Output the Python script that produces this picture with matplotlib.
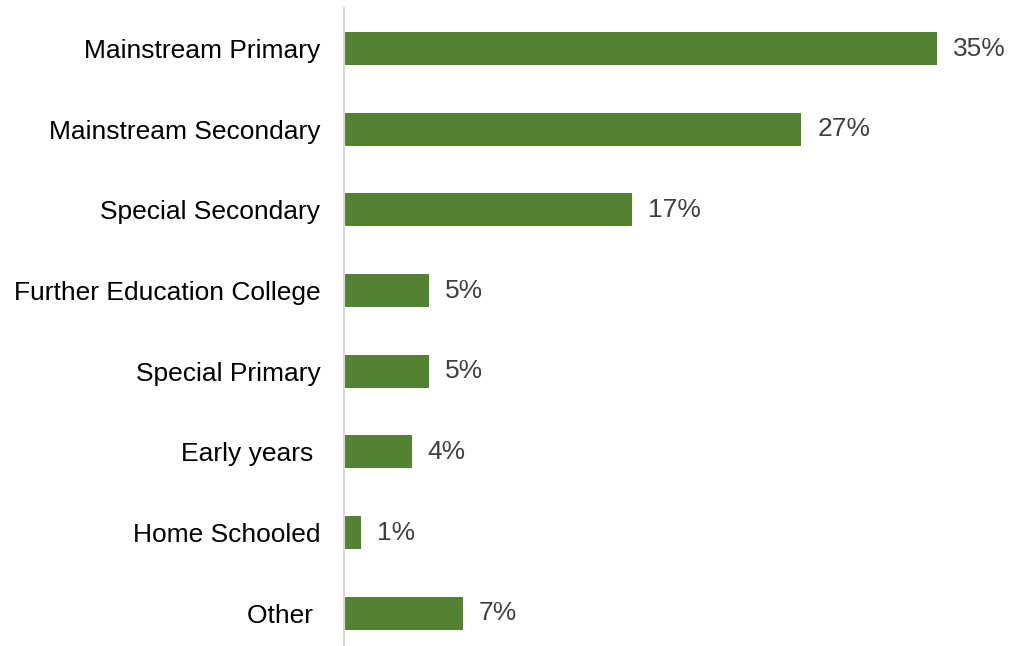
import matplotlib.pyplot as plt

plt.rcParams['font.family'] = ['Liberation Sans', 'DejaVu Sans']

# dữ liệu
categories = ["Mainstream Primary", "Mainstream Secondary", "Special Secondary",
              "Further Education College", "Special Primary", "Early years ",
              "Home Schooled", "Other "]
values = [35, 27, 17, 5, 5, 4, 1, 7]
value_labels = ["35%", "27%", "17%", "5%", "5%", "4%", "1%", "7%"]

fig = plt.figure(figsize=(10.14, 6.46), dpi=100)
ax = fig.add_axes([344 / 1014, 0, 670 / 1014, 638 / 646])

pos = list(range(len(categories)))
ax.barh(pos, values, height=0.41, color="#548235")

for y, v, lab in zip(pos, values, value_labels):
    ax.annotate(lab, (v, y), xytext=(11.5, 0), textcoords="offset points",
                va="center", ha="left", fontsize=19, color="#404040")

ax.set_yticks(pos)
ax.set_yticklabels(categories, fontsize=19, color="black")
ax.tick_params(axis="y", length=0, pad=17)
ax.set_xticks([])
ax.set_xlim(0, 670 / 16.94)
ax.set_ylim(7.405, -0.502)

for s in ["top", "right", "bottom"]:
    ax.spines[s].set_visible(False)
ax.spines["left"].set_color("#d9d9d9")
ax.spines["left"].set_linewidth(1.5)

plt.savefig("out.png", dpi=100)
